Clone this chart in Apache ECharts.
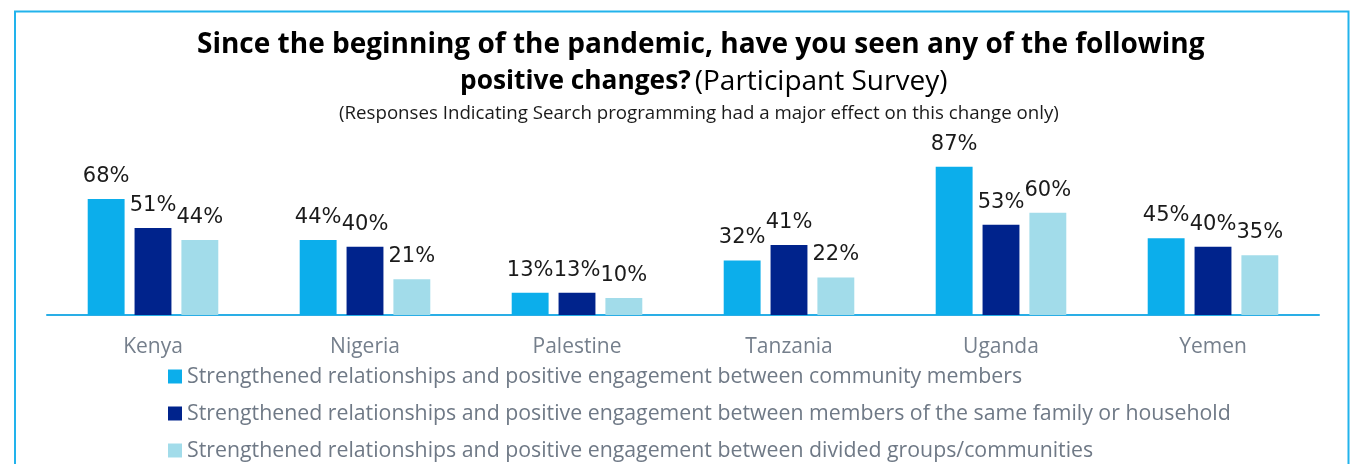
<!DOCTYPE html>
<html>
<head>
<meta charset="utf-8">
<script src="https://cdn.jsdelivr.net/npm/echarts@6/dist/echarts.min.js"></script>
<style>
  html, body { margin: 0; padding: 0; background: #ffffff; }
  #chart { width: 1351px; height: 464px; }
</style>
</head>
<body>
<div id="chart"></div>
<script>
// Countries surveyed
const countries = ['Kenya', 'Nigeria', 'Palestine', 'Tanzania', 'Uganda', 'Yemen'];

// Series names
const seriesNames = [
  'Strengthened relationships and positive engagement between community members',
  'Strengthened relationships and positive engagement between members of the same family or household',
  'Strengthened relationships and positive engagement between divided groups/communities'
];

// Percent of responses per country
const communityMembers = [68, 44, 13, 32, 87, 45];
const familyHousehold = [51, 40, 13, 41, 53, 40];
const dividedGroups = [44, 21, 10, 22, 60, 35];

const seriesValues = [communityMembers, familyHousehold, dividedGroups];
const seriesColors = ['#0caeeb', '#00238c', '#a2dcea'];

const chart = echarts.init(document.getElementById('chart'), null, { renderer: 'canvas' });

// One legend block per series, stacked as rows
const legendRowTop = [361, 398, 435];
const legends = seriesNames.map((name, i) => ({
  orient: 'horizontal',
  left: 163,
  top: legendRowTop[i],
  itemWidth: 14,
  itemHeight: 14,
  icon: 'rect',
  textStyle: { fontFamily: 'Open Sans', fontSize: 21.3, color: '#6f7986' },
  data: [name]
}));

const boldTitle = { fontFamily: 'Open Sans', fontWeight: 'bold', fontSize: 28, color: '#000000' };

const option = {
  animation: false,
  backgroundColor: '#ffffff',
  title: [{
    left: 192,
    top: 26,
    text: 'Since the beginning of the pandemic, have you seen any of the following',
    textStyle: boldTitle
  }, {
    left: 455,
    top: 63,
    text: '{b|positive changes?}{n|(Participant Survey)}',
    textStyle: {
      rich: {
        b: { fontFamily: 'Open Sans', fontWeight: 'bold', fontSize: 26.3, color: '#000000' },
        n: { fontFamily: 'Open Sans', fontWeight: 'normal', fontSize: 28, color: '#000000', padding: [0, 0, 0, 4] }
      }
    }
  }, {
    left: 334,
    top: 99,
    text: '(Responses Indicating Search programming had a major effect on this change only)',
    textStyle: { fontFamily: 'Open Sans', fontWeight: 'normal', fontSize: 18.7, color: '#1a1a1a' }
  }],
  graphic: [{
    type: 'rect',
    shape: { x: 15, y: 11.5, width: 1333.5, height: 520 },
    style: { fill: 'none', stroke: '#22b3ec', lineWidth: 2 },
    silent: true
  }],
  legend: legends,
  grid: { left: 47, right: 32, top: 144.5, bottom: 149, containLabel: false },
  xAxis: {
    type: 'category',
    data: countries,
    axisLine: { lineStyle: { color: '#2aaee6', width: 2 } },
    axisTick: { show: false },
    axisLabel: { fontFamily: 'Open Sans', fontSize: 21, color: '#757f8c', margin: 22 }
  },
  yAxis: {
    type: 'value',
    min: 0,
    max: 100,
    show: false,
    splitLine: { show: false }
  },
  series: seriesNames.map((name, i) => ({
    name: name,
    type: 'bar',
    data: seriesValues[i],
    barWidth: '17.4%',
    barGap: '27%',
    itemStyle: { color: seriesColors[i] },
    label: {
      show: true,
      position: 'top',
      distance: 12,
      formatter: '{c}%',
      fontFamily: 'DejaVu Sans',
      fontSize: 21,
      color: '#1a1a1a'
    }
  }))
};

chart.setOption(option);
</script>
</body>
</html>
